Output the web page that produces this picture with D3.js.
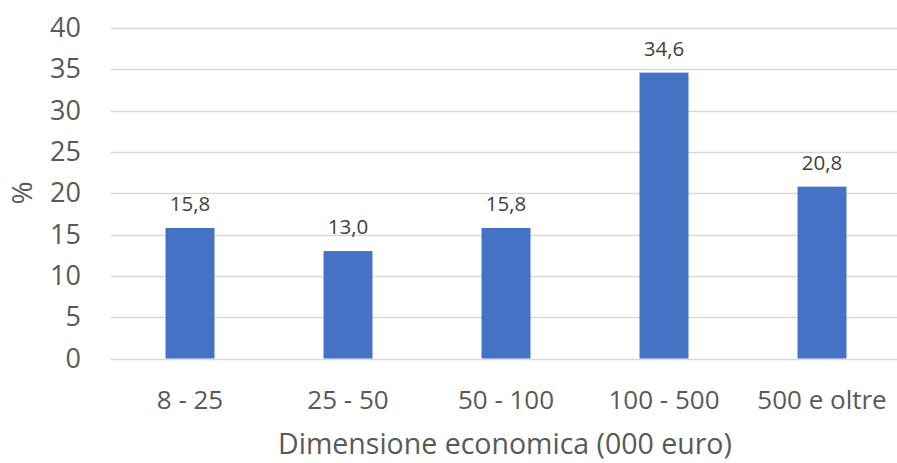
<!DOCTYPE html>
<meta charset="utf-8">
<script src="https://d3js.org/d3.v7.min.js"></script>
<style>
  body { margin: 0; background: #fff; }
  text { font-family: "Open Sans", sans-serif; }
</style>
<div id="chart"></div>
<script>
// data
var categories = ["8 - 25", "25 - 50", "50 - 100", "100 - 500", "500 e oltre"];
var values = [15.8, 13.0, 15.8, 34.6, 20.8];
var yTicks = [0, 5, 10, 15, 20, 25, 30, 35, 40];

var W = 897, H = 463;
var svg = d3.select("#chart").append("svg")
  .attr("width", W).attr("height", H);

var x = d3.scaleBand()
  .domain(categories)
  .range([111, 901])
  .paddingInner(0.69)
  .paddingOuter(0.345);

var y = d3.scaleLinear()
  .domain([0, 40])
  .range([358.5, 28]);

// gridlines
svg.append("g")
  .selectAll("line")
  .data(yTicks)
  .enter().append("line")
    .attr("x1", 111).attr("x2", W)
    .attr("y1", function(d) { return Math.round(y(d)) + 0.5; })
    .attr("y2", function(d) { return Math.round(y(d)) + 0.5; })
    .attr("stroke", "#d9d9d9")
    .attr("stroke-width", 1.5);

// y axis labels
var yAxis = svg.append("g")
  .attr("transform", "translate(81,0)")
  .call(d3.axisLeft(y).tickValues(yTicks).tickSize(0).tickPadding(0));
yAxis.select(".domain").remove();
yAxis.selectAll("text")
  .attr("font-family", "Open Sans, sans-serif")
  .attr("font-size", 27)
  .attr("fill", "#595959");

// x axis labels
var xAxis = svg.append("g")
  .attr("transform", "translate(0,391)")
  .call(d3.axisBottom(x).tickSize(0).tickPadding(0));
xAxis.select(".domain").remove();
xAxis.selectAll("text")
  .attr("font-family", "Open Sans, sans-serif")
  .attr("font-size", 26)
  .attr("fill", "#595959");

// bars
svg.append("g")
  .selectAll("rect")
  .data(values)
  .enter().append("rect")
    .attr("x", function(d, i) { return x(categories[i]); })
    .attr("y", function(d) { return y(d); })
    .attr("width", x.bandwidth())
    .attr("height", function(d) { return y(0) - y(d); })
    .attr("fill", "#4472c4");

// data labels
svg.append("g")
  .selectAll("text")
  .data(values)
  .enter().append("text")
    .attr("x", function(d, i) { return x(categories[i]) + x.bandwidth() / 2; })
    .attr("y", function(d) { return y(d) - 17; })
    .attr("text-anchor", "middle")
    .attr("font-size", 20.5)
    .attr("fill", "#404040")
    .text(function(d) { return d.toFixed(1).replace(".", ","); });

// axis titles
svg.append("text")
  .attr("x", 505).attr("y", 454)
  .attr("text-anchor", "middle")
  .attr("font-size", 28.5)
  .attr("fill", "#595959")
  .text("Dimensione economica (000 euro)");

svg.append("text")
  .attr("transform", "translate(32,193) rotate(-90)")
  .attr("text-anchor", "middle")
  .attr("font-size", 28)
  .attr("fill", "#595959")
  .text("%");
</script>
